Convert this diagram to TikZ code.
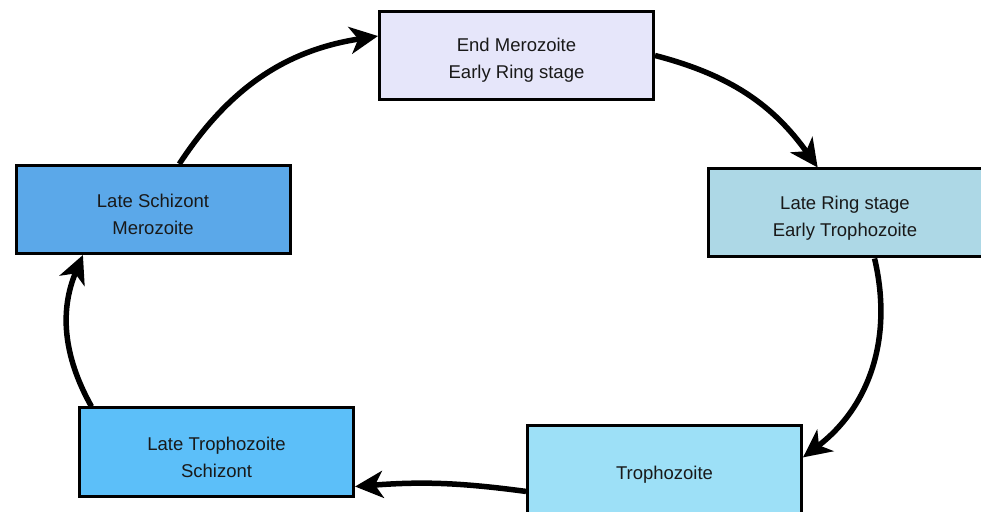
\documentclass[tikz,border=0pt]{standalone}
\usepackage{fontspec}
\setmainfont{Liberation Sans}
\usepackage{xcolor}
\usetikzlibrary{arrows.meta}

\definecolor{merozoitefill}{HTML}{E6E6FA}
\definecolor{ringfill}{HTML}{ADD8E6}
\definecolor{trophofill}{HTML}{9DE0F7}
\definecolor{latetrophofill}{HTML}{5CBFF9}
\definecolor{schizontfill}{HTML}{5BA8E9}
\newcommand{\stagestrut}{\rule{0pt}{23.5pt}}

\begin{document}
\begin{tikzpicture}[x=1pt, y=1pt,
  stagebox/.style={draw=black, line width=3pt, minimum width=274pt, minimum height=88pt,
    align=center, font=\fontsize{18.5}{26.7}\selectfont, text=black!90},
  cyclearrow/.style={line width=5.5pt, -{Stealth[length=28pt, width=27pt, inset=8pt]}}]
  \useasboundingbox (0,0) rectangle (981,511);
  \node[stagebox, fill=merozoitefill] (merozoite) at (516.5,455.5) {\stagestrut End Merozoite\\Early Ring stage};
  \node[stagebox, fill=ringfill] (ring) at (845,298) {\stagestrut Late Ring stage\\Early Trophozoite};
  \node[stagebox, fill=trophofill] (tropho) at (664.5,41.5) {\stagestrut Trophozoite};
  \node[stagebox, fill=latetrophofill] (latetropho) at (216.5,59) {\stagestrut Late Trophozoite\\Schizont};
  \node[stagebox, fill=schizontfill] (schizont) at (153,301.5) {\stagestrut Late Schizont\\Merozoite};
  \draw[cyclearrow] (schizont.60) to[bend left=24] (merozoite.172);
  \draw[cyclearrow] (merozoite.east) to[bend left=20] (ring.121);
  \draw[cyclearrow] (ring.-57) to[bend left=33] (tropho.5);
  \draw[cyclearrow] (tropho.189) to[bend right=6] (latetropho.-14);
  \draw[cyclearrow] (latetropho.160) to[bend left=26] (schizont.213);
\end{tikzpicture}
\end{document}
